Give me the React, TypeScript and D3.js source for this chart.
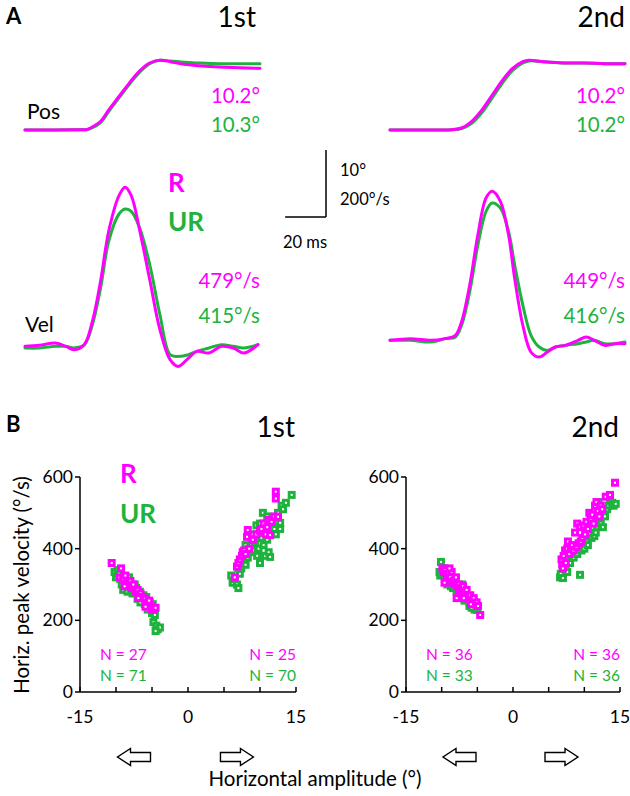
import React from "react";
import * as d3 from "d3";

const MAG = "#ff00ff";
const GRN = "#1db33c";
const FONT = "Lato, 'Noto Sans', sans-serif";

// Panel A traces: [time ms, value]
const pos1R: [number, number][] = [[0,0],[15,0],[25,0.05],[30,0.05],[32,0.3],[37,1.3],[41,3.0],[46,5.0],[51,7.0],[56,8.8],[61,10.0],[66,10.4],[71,10.2],[78,9.8],[85,9.6],[95,9.4],[105,9.3],[115,9.2]];
const pos1U: [number, number][] = [[0,0],[15,0],[25,0.05],[30,0.05],[32,0.2],[37,1.1],[41,2.8],[46,4.8],[51,6.8],[56,8.6],[61,9.9],[66,10.4],[71,10.3],[78,10.1],[85,10.0],[95,9.9],[105,9.9],[115,9.9]];
const pos2R: [number, number][] = [[0,0],[20,0],[30,0.05],[35,0.3],[40,1.3],[45,3.0],[50,5.2],[55,7.4],[60,9.2],[65,10.2],[68,10.4],[75,10.2],[85,10.0],[95,10.0],[105,9.9],[115,9.9]];
const pos2U: [number, number][] = [[0,0],[20,0],[30,0.02],[35,0.2],[40,1.0],[45,2.6],[50,4.8],[55,7.0],[60,8.9],[65,10.0],[68,10.3],[75,10.2],[85,10.0],[95,10.0],[105,9.9],[115,9.9]];

const vel1R: [number, number][] = [[0,5],[7,8],[15,15],[20,5],[24,-5],[29,10],[33,80],[37,200],[41,350],[46,455],[49,480],[52,455],[56,355],[61,205],[66,55],[71,-35],[75,-55],[80,-30],[84,-10],[90,-15],[96,5],[102,0],[107,-15],[114,10]];
const vel1U: [number, number][] = [[0,0],[7,0],[15,5],[20,5],[24,0],[29,10],[33,70],[37,180],[41,320],[46,400],[49,415],[52,408],[56,360],[61,250],[66,100],[71,-20],[75,-25],[80,-20],[84,-10],[90,0],[96,10],[102,5],[107,0],[114,10]];
const vel2R: [number, number][] = [[0,5],[10,10],[20,5],[27,10],[32,20],[35,60],[39,170],[43,320],[47,430],[50,450],[54,420],[58,320],[61,190],[65,50],[69,-30],[73,-45],[77,-30],[81,-15],[86,-10],[92,5],[96,15],[100,5],[105,-10],[110,-5],[115,-5]];
const vel2U: [number, number][] = [[0,5],[10,5],[20,0],[27,10],[32,15],[35,50],[39,150],[43,290],[47,390],[50,415],[54,400],[58,330],[61,230],[65,110],[69,20],[73,-15],[77,-25],[81,-15],[86,-10],[92,-5],[96,0],[100,5],[105,-5],[110,-5],[115,0]];

const ampLabels1 = ["10.2°", "10.3°"];
const ampLabels2 = ["10.2°", "10.2°"];
const velLabels1 = ["479°/s", "415°/s"];
const velLabels2 = ["449°/s", "416°/s"];

// Panel B scatter: [horizontal amplitude deg, peak velocity deg/s]
const sc1R: [number, number][] = [
  [-10.6,360],[-9.3,345],[-9.5,320],[-9.0,315],[-8.7,325],[-8.5,305],[-8.2,300],[-8.0,310],[-7.8,290],[-7.5,295],[-7.3,280],[-7.0,285],[-6.8,270],[-6.6,275],[-6.3,265],[-6.0,260],[-5.8,250],[-5.6,245],[-5.4,255],[-5.2,240],[-5.0,232],[-4.8,230],[-4.5,235],[-8.8,295],[-7.6,300],[-6.9,262],[-5.9,238],
  [6.5,320],[6.8,350],[7.0,360],[7.2,370],[7.5,380],[7.6,390],[7.8,395],[8.0,385],[8.2,433],[8.5,400],[9.0,425],[8.3,452],[9.5,440],[10.0,450],[10.2,455],[10.5,470],[10.8,440],[11.0,460],[11.2,480],[11.4,438],[11.6,475],[12.0,490],[12.5,489],[12.2,540],[12.2,559]
];
const sc1U: [number, number][] = [
  [-10.2,335],[-10.0,320],[-9.8,340],[-9.6,330],[-9.2,300],[-9.0,285],[-8.6,310],[-8.4,280],[-8.0,295],[-7.7,275],[-7.4,300],[-7.2,290],[-7.0,260],[-6.7,280],[-6.5,255],[-6.2,270],[-6.0,245],[-5.8,265],[-5.5,240],[-5.3,250],[-5.0,220],[-4.9,245],[-4.6,215],[-4.8,195],[-4.4,185],[-4.2,175],[-3.9,180],[-4.5,170],[-8.2,320],[-9.4,315],[-7.9,285],[-6.6,250],[-5.6,230],
  [6.0,325],[6.2,305],[6.5,315],[6.8,300],[7.0,290],[7.2,330],[7.4,345],[7.6,360],[7.8,370],[8.0,355],[8.3,375],[8.5,390],[8.8,410],[9.0,395],[9.3,420],[9.5,465],[9.6,380],[9.8,400],[10.0,360],[10.2,430],[10.4,500],[10.5,410],[10.7,380],[10.9,445],[11.0,425],[11.2,390],[11.4,377],[11.5,460],[11.7,470],[12.0,455],[12.2,440],[12.5,500],[12.8,472],[12.8,455],[13.0,520],[13.2,510],[13.6,528],[14.4,550],[9.0,440],[10.0,470],[11.0,490],[8.0,410],[7.0,345]
];
const sc2R: [number, number][] = [
  [-9.9,345],[-9.7,335],[-9.5,340],[-9.3,325],[-9.1,330],[-9.0,315],[-8.8,320],[-8.6,335],[-8.5,305],[-8.3,310],[-8.1,300],[-8.0,320],[-7.8,295],[-7.6,300],[-7.5,285],[-7.3,290],[-7.1,280],[-7.0,295],[-6.8,275],[-6.7,270],[-6.5,285],[-6.3,265],[-6.2,260],[-6.0,270],[-5.8,255],[-5.6,250],[-5.5,262],[-5.3,245],[-5.1,250],[-4.9,240],[-4.6,215],[-7.9,262],[-9.6,305],[-6.9,262],[-8.9,345],[-5.9,245],
  [6.8,370],[6.9,355],[7.0,345],[7.1,380],[7.3,395],[7.4,360],[7.6,400],[7.7,420],[7.9,385],[8.1,400],[8.3,410],[8.5,395],[8.7,445],[8.9,405],[9.0,470],[9.2,415],[9.4,460],[9.5,420],[9.7,430],[9.9,465],[10.1,440],[10.3,475],[10.5,455],[10.7,500],[10.9,480],[11.1,495],[11.3,470],[11.5,520],[11.7,530],[11.9,505],[12.1,490],[12.3,520],[12.5,510],[13.0,545],[13.6,550],[14.3,584]
];
const sc2U: [number, number][] = [
  [-10.1,363],[-10.3,335],[-10.2,325],[-9.8,330],[-9.5,310],[-9.2,300],[-8.9,310],[-8.7,295],[-8.4,290],[-8.2,300],[-7.9,280],[-7.7,285],[-7.4,275],[-7.2,270],[-6.9,280],[-6.6,260],[-6.4,265],[-6.1,250],[-5.9,255],[-5.7,245],[-5.4,250],[-5.2,235],[-5.0,229],[-5.4,230],[-6.1,240],[-7.6,290],[-8.6,315],[-9.6,345],[-5.8,235],[-6.8,255],[-7.1,300],[-8.0,310],[-9.0,325],
  [6.6,320],[6.7,330],[7.0,318],[7.2,345],[7.4,350],[7.6,335],[7.8,390],[8.0,360],[8.2,380],[8.5,375],[8.8,390],[9.0,385],[9.2,400],[9.4,327],[9.6,395],[9.8,410],[10.0,400],[10.3,420],[10.5,410],[10.8,440],[11.0,430],[11.2,480],[11.4,435],[11.6,445],[11.8,460],[12.0,500],[12.3,470],[12.6,460],[12.9,490],[13.2,510],[13.4,520],[13.6,535],[13.9,528],[14.1,520],[14.4,525],[12.0,530]
];

const nLabels1 = [["N = 27", "N = 71"], ["N = 25", "N = 70"]];
const nLabels2 = [["N = 36", "N = 33"], ["N = 36", "N = 36"]];
const xTickVals = [-15, -10, -5, 0, 5, 10, 15];
const xTickLabels = [-15, 0, 15];
const yTickVals = [0, 200, 400, 600];

function Trace({ data, x, y, color }: any) {
  const line = d3.line<[number, number]>().x(d => x(d[0])).y(d => y(d[1])).curve(d3.curveCatmullRom.alpha(0.5));
  return <path d={line(data) || ""} fill="none" stroke={color} strokeWidth={3} strokeLinejoin="round" strokeLinecap="round" />;
}

function Arrow({ cx, cy, dir }: { cx: number; cy: number; dir: number }) {
  const w = 33, h = 17, sh = 9, head = 13;
  const pts: [number, number][] = [
    [-w / 2, -sh / 2], [w / 2 - head, -sh / 2], [w / 2 - head, -h / 2], [w / 2, 0],
    [w / 2 - head, h / 2], [w / 2 - head, sh / 2], [-w / 2, sh / 2],
  ];
  const p = "M" + pts.map(q => `${cx + dir * q[0]},${cy + q[1]}`).join("L") + "Z";
  return <path d={p} fill="white" stroke="#000" strokeWidth={1.4} strokeLinejoin="miter" />;
}

function ScatterPanel({ x0, x1, r, u, nl, title }: any) {
  const x = d3.scaleLinear().domain([-15, 15]).range([x0, x1]);
  const y = d3.scaleLinear().domain([0, 600]).range([692, 477]);
  const sq = 5;
  return (
    <g>
      <line x1={x0} x2={x0} y1={y(600)} y2={y(0)} stroke="#000" strokeWidth={1.5} />
      <line x1={x0} x2={x1} y1={y(0)} y2={y(0)} stroke="#000" strokeWidth={1.5} />
      {yTickVals.map(v => (
        <g key={v}>
          <line x1={x0 - 5} x2={x0} y1={y(v)} y2={y(v)} stroke="#000" strokeWidth={1.5} />
          <text x={x0 - 7} y={y(v) + 6} textAnchor="end" fontSize={17.5} fontFamily={FONT}>{v}</text>
        </g>
      ))}
      {xTickVals.map(v => (
        <line key={v} x1={x(v)} x2={x(v)} y1={y(0)} y2={y(0) - 5} stroke="#000" strokeWidth={1.5} />
      ))}
      {xTickLabels.map(v => (
        <text key={v} x={x(v)} y={723} textAnchor="middle" fontSize={17.5} fontFamily={FONT}>{v}</text>
      ))}
      {u.map((d: [number, number], i: number) => (
        <rect key={"u" + i} x={x(d[0]) - sq / 2} y={y(d[1]) - sq / 2} width={sq} height={sq} fill="white" stroke={GRN} strokeWidth={3} />
      ))}
      {r.map((d: [number, number], i: number) => (
        <rect key={"r" + i} x={x(d[0]) - sq / 2} y={y(d[1]) - sq / 2} width={sq} height={sq} fill="white" stroke={MAG} strokeWidth={3} />
      ))}
      <text x={x0 + 20} y={660} fontSize={15.5} fill={MAG} fontFamily={FONT}>{nl[0][0]}</text>
      <text x={x0 + 20} y={681} fontSize={15.5} fill={GRN} fontFamily={FONT}>{nl[0][1]}</text>
      <text x={x1} y={660} fontSize={15.5} fill={MAG} textAnchor="end" fontFamily={FONT}>{nl[1][0]}</text>
      <text x={x1} y={681} fontSize={15.5} fill={GRN} textAnchor="end" fontFamily={FONT}>{nl[1][1]}</text>
      <Arrow cx={x(-7.5)} cy={757} dir={-1} />
      <Arrow cx={x(6.8)} cy={757} dir={1} />
      <text x={x1 - 1} y={437} textAnchor="end" fontSize={28} fontFamily={FONT}>{title}</text>
    </g>
  );
}

function TracePanel({ xr, velBase, pr, pu, vr, vu, al, vl, title, titleX }: any) {
  const x = d3.scaleLinear().domain([0, 115]).range(xr);
  const yP = d3.scaleLinear().domain([0, 10]).range([130, 63]);
  const yV = d3.scaleLinear().domain([0, 200]).range([velBase, velBase - 67]);
  return (
    <g>
      <Trace data={pu} x={x} y={yP} color={GRN} />
      <Trace data={pr} x={x} y={yP} color={MAG} />
      <Trace data={vu} x={x} y={yV} color={GRN} />
      <Trace data={vr} x={x} y={yV} color={MAG} />
      <text x={xr[1]} y={103} textAnchor="end" fontSize={20.5} fill={MAG} fontFamily={FONT}>{al[0]}</text>
      <text x={xr[1]} y={132} textAnchor="end" fontSize={20.5} fill={GRN} fontFamily={FONT}>{al[1]}</text>
      <text x={xr[1]} y={288} textAnchor="end" fontSize={20.5} fill={MAG} fontFamily={FONT}>{vl[0]}</text>
      <text x={xr[1]} y={323} textAnchor="end" fontSize={20.5} fill={GRN} fontFamily={FONT}>{vl[1]}</text>
      <text x={titleX} y={27} textAnchor="end" fontSize={28} fontFamily={FONT}>{title}</text>
    </g>
  );
}

export default function App() {
  const xs = d3.scaleLinear().domain([0, 115]).range([25, 260]);
  const barLen = xs(20) - xs(0);
  const yP = d3.scaleLinear().domain([0, 10]).range([130, 63]);
  const barH = yP(0) - yP(10);
  const bx = 326, by = 217;
  return (
    <svg width={630} height={796} style={{ position: "absolute", left: 0, top: 0, background: "white" }} fontFamily={FONT}>
      <rect width={630} height={796} fill="white" />
      <text x={6} y={24} fontSize={22} fontWeight="bold">A</text>
      <text x={6} y={432} fontSize={22} fontWeight="bold">B</text>
      <TracePanel xr={[25, 260]} velBase={348} pr={pos1R} pu={pos1U} vr={vel1R} vu={vel1U} al={ampLabels1} vl={velLabels1} title="1st" titleX={256} />
      <TracePanel xr={[390, 625]} velBase={342} pr={pos2R} pu={pos2U} vr={vel2R} vu={vel2U} al={ampLabels2} vl={velLabels2} title="2nd" titleX={625} />
      <text x={27} y={119} fontSize={21}>Pos</text>
      <text x={25} y={332} fontSize={21}>Vel</text>
      <text x={168} y={192} fontSize={26} fontWeight="bold" fill={MAG}>R</text>
      <text x={168} y={231} fontSize={26} fontWeight="bold" fill={GRN}>UR</text>
      <line x1={bx - barLen} x2={bx} y1={by} y2={by} stroke="#000" strokeWidth={1.5} />
      <line x1={bx} x2={bx} y1={by - barH} y2={by} stroke="#000" strokeWidth={1.5} />
      <text x={340} y={176} fontSize={16.5}>10°</text>
      <text x={340} y={205} fontSize={16.5}>200°/s</text>
      <text x={283} y={248} fontSize={16.5}>20 ms</text>

      <ScatterPanel x0={80} x1={296} r={sc1R} u={sc1U} nl={nLabels1} title="1st" />
      <ScatterPanel x0={406} x1={620} r={sc2R} u={sc2U} nl={nLabels2} title="2nd" />
      <text x={120} y={483} fontSize={26} fontWeight="bold" fill={MAG}>R</text>
      <text x={120} y={523} fontSize={26} fontWeight="bold" fill={GRN}>UR</text>
      <text transform="translate(29,585) rotate(-90)" textAnchor="middle" fontSize={20.5}>Horiz. peak velocity (°/s)</text>
      <text x={315} y={786} textAnchor="middle" fontSize={20.5}>Horizontal amplitude (°)</text>
    </svg>
  );
}
